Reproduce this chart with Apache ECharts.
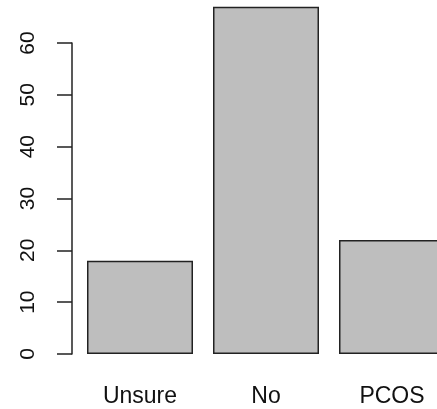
<!DOCTYPE html>
<html>
<head>
<meta charset="utf-8">
<script src="https://cdn.jsdelivr.net/npm/echarts@6/dist/echarts.min.js"></script>
<style>
  html, body { margin: 0; padding: 0; background: #fff; }
  #chart { width: 437px; height: 409px; }
</style>
</head>
<body>
<div id="chart"></div>
<script>
// categories and counts
const categories = ["Unsure", "No", "PCOS"];
const counts = [18, 67, 22];
const yTicks = [0, 10, 20, 30, 40, 50, 60];

let chart = echarts.init(document.getElementById("chart"));
let option = {
  animation: false,
  backgroundColor: "#fff",
  textStyle: { fontFamily: "Liberation Sans, Arial, sans-serif" },
  grid: {
    left: 77,
    top: 43,
    width: 378,
    height: 311,
    outerBoundsMode: "none" // last bar runs past the right edge, like the source
  },
  xAxis: {
    type: "category",
    data: categories,
    axisLine: { show: false },
    axisTick: { show: false },
    axisLabel: {
      color: "#111",
      fontSize: 23,
      margin: 31
    }
  },
  yAxis: {
    type: "value",
    min: yTicks[0],
    max: yTicks[yTicks.length - 1],
    interval: 10,
    offset: 5,
    splitLine: { show: false },
    axisLine: {
      show: true,
      lineStyle: { color: "#222", width: 1.5 }
    },
    axisTick: {
      show: true,
      length: 15,
      lineStyle: { color: "#222", width: 1.5 }
    },
    axisLabel: {
      color: "#111",
      fontSize: 21,
      rotate: 90,
      margin: 33
    }
  },
  series: [
    {
      type: "bar",
      data: counts,
      barWidth: 106,
      clip: false,
      itemStyle: {
        color: "#bebebe",
        borderColor: "#222",
        borderWidth: 1.5
      }
    }
  ]
};
chart.setOption(option, true);
</script>
</body>
</html>
